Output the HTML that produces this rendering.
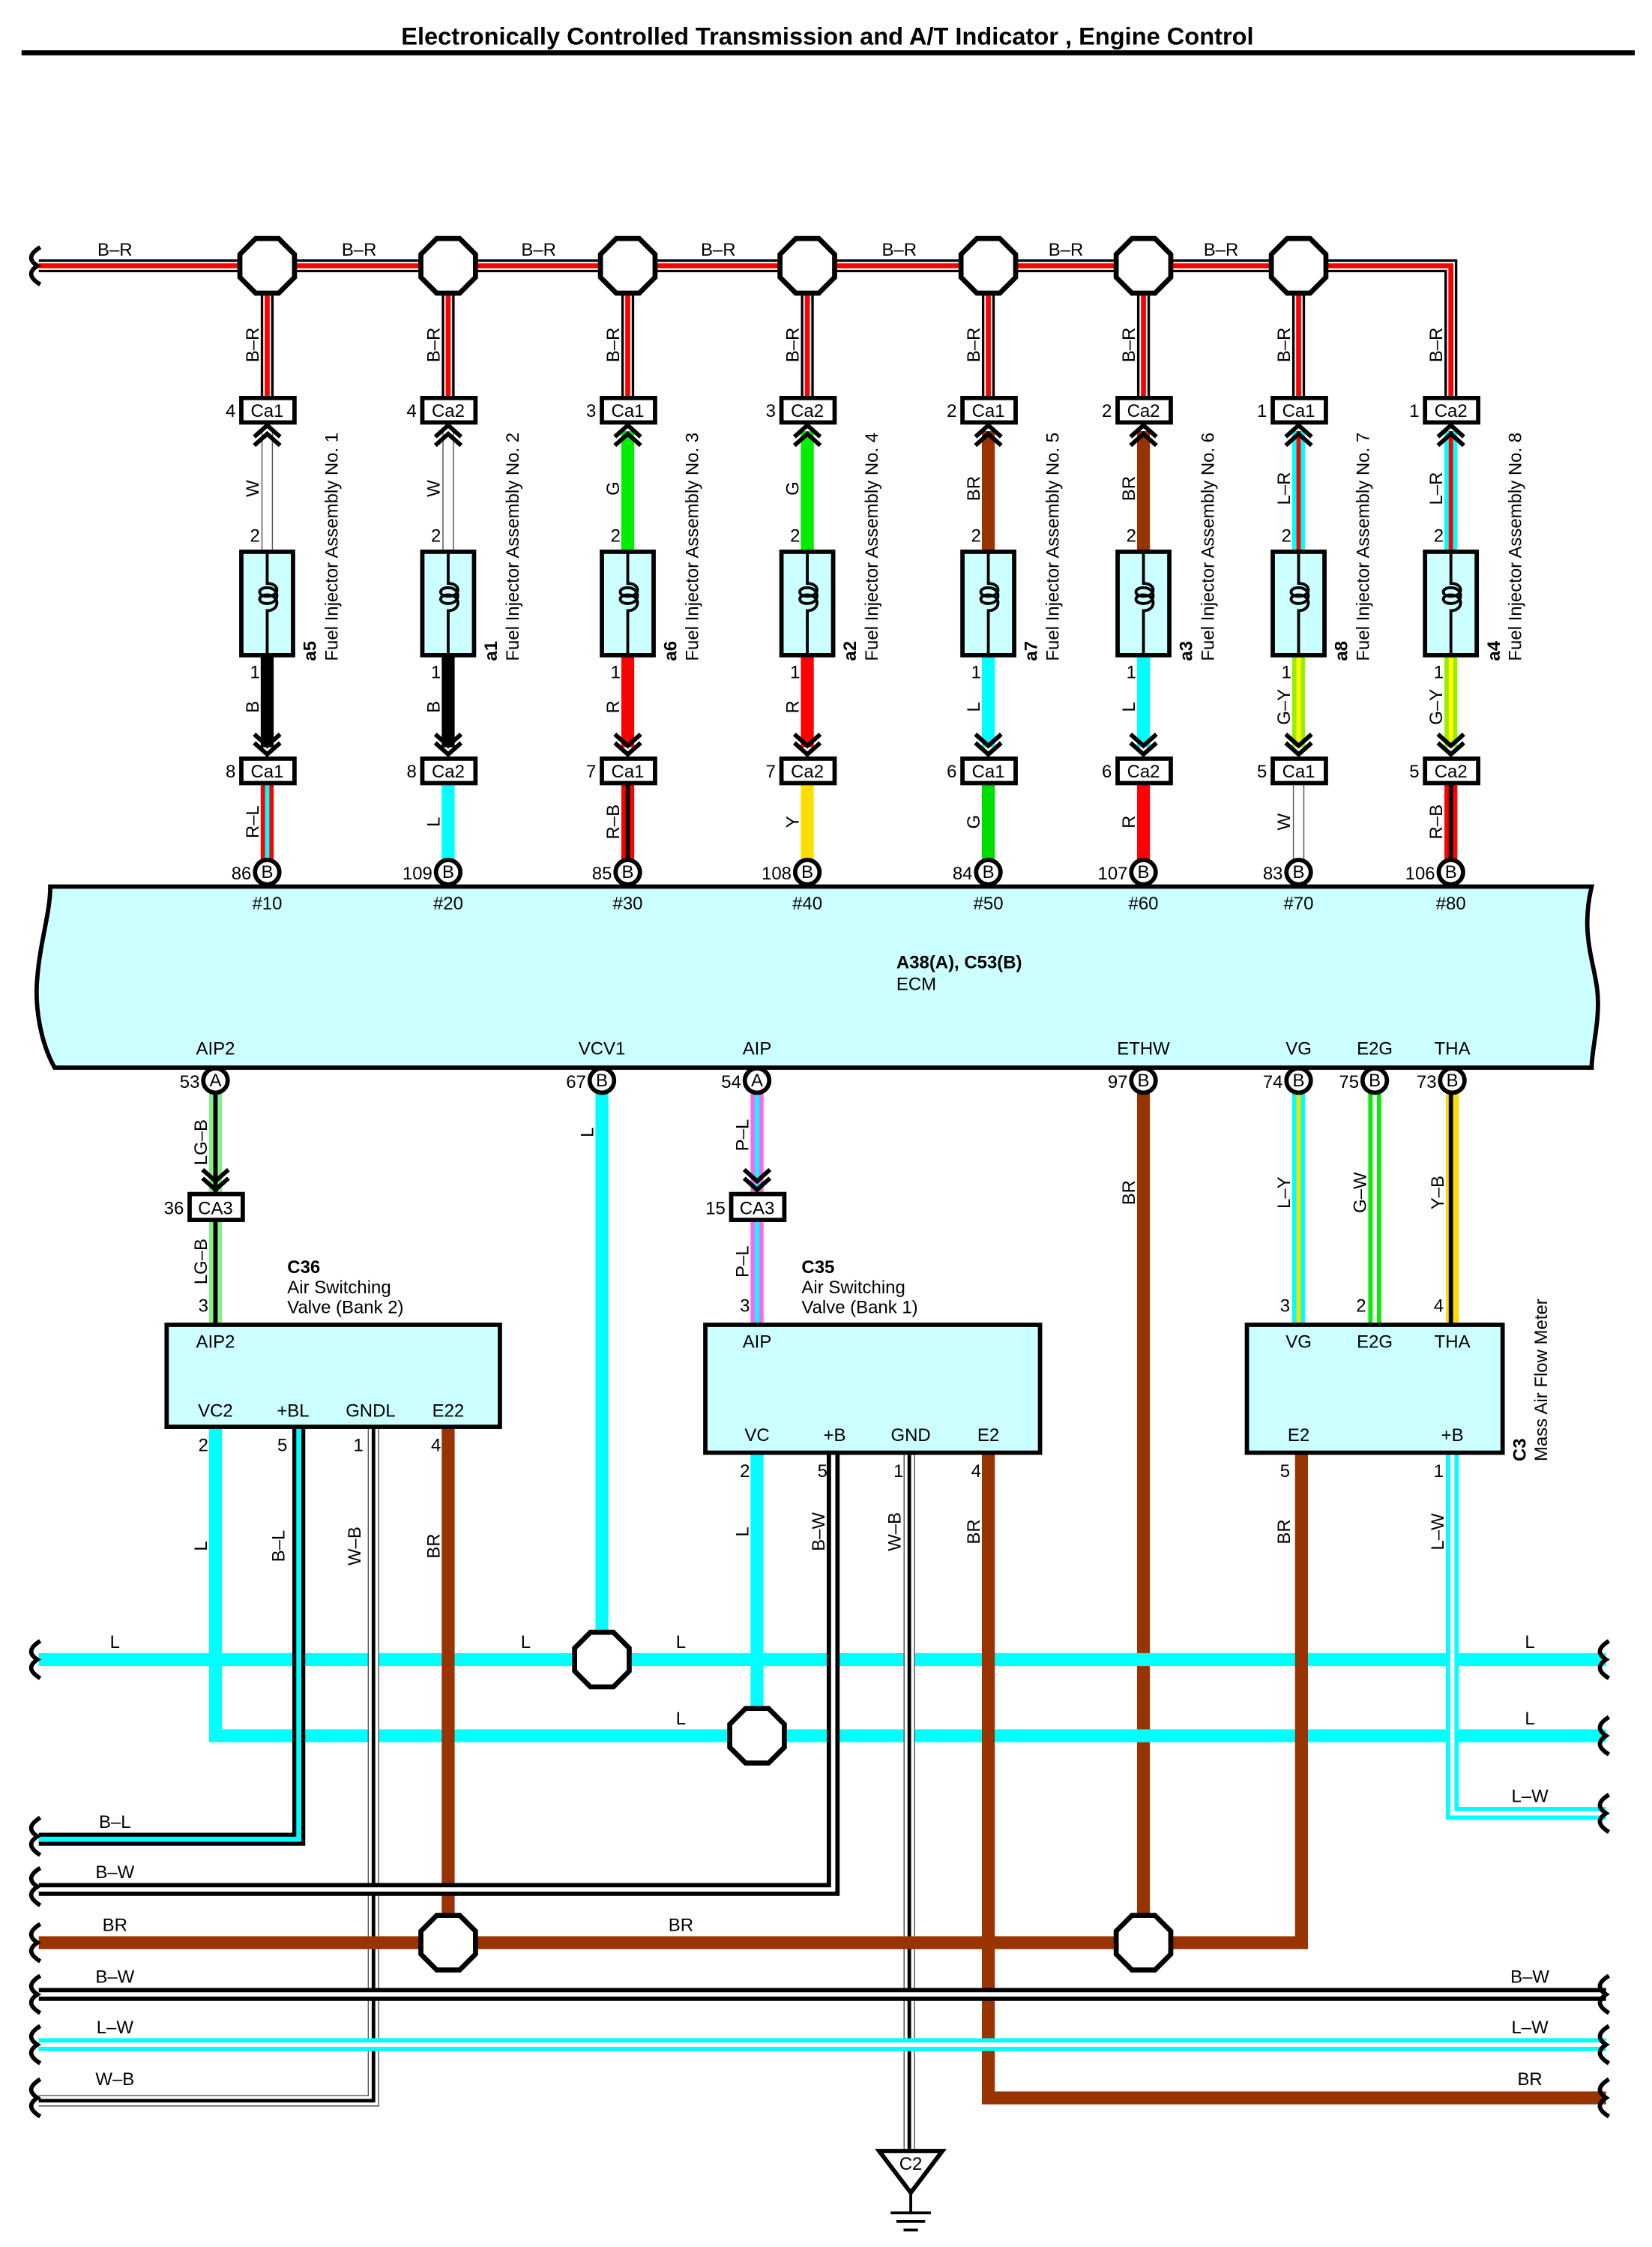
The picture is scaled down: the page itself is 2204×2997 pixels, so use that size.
<!DOCTYPE html>
<html><head><meta charset="utf-8"><style>
html,body{margin:0;padding:0;background:#fff}
svg{display:block}
text{font-family:"Liberation Sans",sans-serif;font-size:12.5px;fill:#000}
.b{font-weight:bold}
.f{fill:none}
</style></head><body>
<svg width="2204" height="2997" viewBox="0 0 1150 1563.8" preserveAspectRatio="none" xmlns="http://www.w3.org/2000/svg">
<defs>
<g id="oct"><polygon points="-8,-19 8,-19 19,-8 19,8 8,19 -8,19 -19,8 -19,-8" fill="#fff" stroke="#000" stroke-width="3.5"/></g>
<g id="chu" fill="none" stroke="#000" stroke-width="3"><path d="M-9,10 L0,2 L9,10 M-9,16 L0,8 L9,16"/></g>
<g id="chd" fill="none" stroke="#000" stroke-width="3"><path d="M-9,-16 L0,-8 L9,-16 M-9,-10 L0,-2 L9,-10"/></g>
<g id="pin"><circle r="8.5" fill="#fff" stroke="#000" stroke-width="3"/></g>
<g id="inj"><rect x="-18" y="0" width="36" height="72" fill="#ccffff" stroke="#000" stroke-width="3"/><path d="M0,0 V22 c9,0 9,9 0,9 c-7,0 -7,-6 0,-6 c9,0 9,11 0,11 c-7,0 -7,-6 0,-6 c9,0 9,11 0,11 V72" fill="none" stroke="#000" stroke-width="2"/></g>
<g id="cap"><path d="M0,-13 C-8,-8 -8,-4 -2,0 C-8,4 -8,8 0,13" fill="none" stroke="#000" stroke-width="3"/></g>
</defs>

<text x="576" y="31" text-anchor="middle" class="b" style="font-size:17px">Electronically Controlled Transmission and A/T Indicator , Engine Control</text>
<rect x="15" y="35" width="1123" height="3.5" fill="#000"/>

<!-- top bus B-R -->
<g class="f" stroke-linejoin="miter">
<path d="M27,185 H1010 V285" stroke="#000" stroke-width="9"/>
<path d="M27,185 H1010 V285" stroke="#fff" stroke-width="5.5"/>
<path d="M27,185 H1010 V285" stroke="#f00" stroke-width="3.5"/>
</g>
<use href="#cap" x="28" y="185"/>

<g class="f">
<path d="M186,185V277 M312,185V277 M437,185V277 M562,185V277 M688,185V277 M796,185V277 M904,185V277" stroke="#000" stroke-width="9"/>
<path d="M186,185V277 M312,185V277 M437,185V277 M562,185V277 M688,185V277 M796,185V277 M904,185V277" stroke="#fff" stroke-width="5.5"/>
<path d="M186,185V277 M312,185V277 M437,185V277 M562,185V277 M688,185V277 M796,185V277 M904,185V277" stroke="#f00" stroke-width="3.5"/>
</g>
<use href="#oct" x="186" y="185"/><use href="#oct" x="312" y="185"/><use href="#oct" x="437" y="185"/><use href="#oct" x="562" y="185"/><use href="#oct" x="688" y="185"/><use href="#oct" x="796" y="185"/><use href="#oct" x="904" y="185"/>
<text x="80" y="178" text-anchor="middle">B–R</text><text x="250" y="178" text-anchor="middle">B–R</text><text x="375" y="178" text-anchor="middle">B–R</text><text x="500" y="178" text-anchor="middle">B–R</text><text x="626" y="178" text-anchor="middle">B–R</text><text x="742" y="178" text-anchor="middle">B–R</text><text x="850" y="178" text-anchor="middle">B–R</text>
<g text-anchor="middle">
<text transform="translate(180,240) rotate(-90)">B–R</text><text transform="translate(306,240) rotate(-90)">B–R</text><text transform="translate(431,240) rotate(-90)">B–R</text><text transform="translate(556,240) rotate(-90)">B–R</text><text transform="translate(682,240) rotate(-90)">B–R</text><text transform="translate(790,240) rotate(-90)">B–R</text><text transform="translate(898,240) rotate(-90)">B–R</text><text transform="translate(1004,240) rotate(-90)">B–R</text>
</g>

<g class="f">
<path d="M186,300V384 M312,300V384" stroke="#555" stroke-width="8"/>
<path d="M186,300V384 M312,300V384" stroke="#fff" stroke-width="6.5"/>
<path d="M437,300V384 M562,300V384" stroke="#0e0" stroke-width="9"/>
<path d="M688,300V384 M796,300V384" stroke="#930" stroke-width="9"/>
<path d="M904,300V384 M1010,300V384" stroke="#0ff" stroke-width="9"/>
<path d="M904,300V384 M1010,300V384" stroke="#f00" stroke-width="3"/>
<path d="M186,456V520 M312,456V520" stroke="#000" stroke-width="9"/>
<path d="M437,456V520 M562,456V520" stroke="#f00" stroke-width="9"/>
<path d="M688,456V520 M796,456V520" stroke="#0ff" stroke-width="9"/>
<path d="M904,456V520 M1010,456V520" stroke="#9e0" stroke-width="9"/>
<path d="M904,456V520 M1010,456V520" stroke="#ff0" stroke-width="3"/>
<path d="M186,545V600" stroke="#f00" stroke-width="9"/><path d="M186,545V600" stroke="#0ff" stroke-width="3"/>
<path d="M312,545V600" stroke="#0ff" stroke-width="9"/>
<path d="M437,545V600" stroke="#f00" stroke-width="9"/><path d="M437,545V600" stroke="#000" stroke-width="3"/>
<path d="M562,545V600" stroke="#fd0" stroke-width="9"/>
<path d="M688,545V600" stroke="#0d0" stroke-width="9"/>
<path d="M796,545V600" stroke="#f00" stroke-width="9"/>
<path d="M904,545V600" stroke="#555" stroke-width="8"/><path d="M904,545V600" stroke="#fff" stroke-width="6.5"/>
<path d="M1010,545V600" stroke="#f00" stroke-width="9"/><path d="M1010,545V600" stroke="#000" stroke-width="3"/>
</g>

<g fill="#fff" stroke="#000" stroke-width="3">
<rect x="168" y="277" width="37" height="17"/><rect x="294" y="277" width="37" height="17"/><rect x="419" y="277" width="37" height="17"/><rect x="544" y="277" width="37" height="17"/><rect x="670" y="277" width="37" height="17"/><rect x="778" y="277" width="37" height="17"/><rect x="886" y="277" width="37" height="17"/><rect x="992" y="277" width="37" height="17"/>
<rect x="168" y="528" width="37" height="17"/><rect x="294" y="528" width="37" height="17"/><rect x="419" y="528" width="37" height="17"/><rect x="544" y="528" width="37" height="17"/><rect x="670" y="528" width="37" height="17"/><rect x="778" y="528" width="37" height="17"/><rect x="886" y="528" width="37" height="17"/><rect x="992" y="528" width="37" height="17"/>
</g>
<g text-anchor="middle">
<text x="186" y="290">Ca1</text><text x="312" y="290">Ca2</text><text x="437" y="290">Ca1</text><text x="562" y="290">Ca2</text><text x="688" y="290">Ca1</text><text x="796" y="290">Ca2</text><text x="904" y="290">Ca1</text><text x="1010" y="290">Ca2</text>
<text x="186" y="541">Ca1</text><text x="312" y="541">Ca2</text><text x="437" y="541">Ca1</text><text x="562" y="541">Ca2</text><text x="688" y="541">Ca1</text><text x="796" y="541">Ca2</text><text x="904" y="541">Ca1</text><text x="1010" y="541">Ca2</text>
</g>
<g text-anchor="end">
<text x="164" y="290">4</text><text x="290" y="290">4</text><text x="415" y="290">3</text><text x="540" y="290">3</text><text x="666" y="290">2</text><text x="774" y="290">2</text><text x="882" y="290">1</text><text x="988" y="290">1</text>
<text x="164" y="541">8</text><text x="290" y="541">8</text><text x="415" y="541">7</text><text x="540" y="541">7</text><text x="666" y="541">6</text><text x="774" y="541">6</text><text x="882" y="541">5</text><text x="988" y="541">5</text>
<text x="181" y="377">2</text><text x="307" y="377">2</text><text x="432" y="377">2</text><text x="557" y="377">2</text><text x="683" y="377">2</text><text x="791" y="377">2</text><text x="899" y="377">2</text><text x="1005" y="377">2</text>
<text x="181" y="472">1</text><text x="307" y="472">1</text><text x="432" y="472">1</text><text x="557" y="472">1</text><text x="683" y="472">1</text><text x="791" y="472">1</text><text x="899" y="472">1</text><text x="1005" y="472">1</text>
</g>
<use href="#chu" x="186" y="294"/><use href="#chu" x="312" y="294"/><use href="#chu" x="437" y="294"/><use href="#chu" x="562" y="294"/><use href="#chu" x="688" y="294"/><use href="#chu" x="796" y="294"/><use href="#chu" x="904" y="294"/><use href="#chu" x="1010" y="294"/>
<use href="#chd" x="186" y="527"/><use href="#chd" x="312" y="527"/><use href="#chd" x="437" y="527"/><use href="#chd" x="562" y="527"/><use href="#chd" x="688" y="527"/><use href="#chd" x="796" y="527"/><use href="#chd" x="904" y="527"/><use href="#chd" x="1010" y="527"/>
<use href="#inj" x="186" y="384"/><use href="#inj" x="312" y="384"/><use href="#inj" x="437" y="384"/><use href="#inj" x="562" y="384"/><use href="#inj" x="688" y="384"/><use href="#inj" x="796" y="384"/><use href="#inj" x="904" y="384"/><use href="#inj" x="1010" y="384"/>

<g text-anchor="middle">
<text transform="translate(180,340) rotate(-90)">W</text><text transform="translate(306,340) rotate(-90)">W</text><text transform="translate(431,340) rotate(-90)">G</text><text transform="translate(556,340) rotate(-90)">G</text><text transform="translate(682,340) rotate(-90)">BR</text><text transform="translate(790,340) rotate(-90)">BR</text><text transform="translate(898,340) rotate(-90)">L–R</text><text transform="translate(1004,340) rotate(-90)">L–R</text>
<text transform="translate(180,492) rotate(-90)">B</text><text transform="translate(306,492) rotate(-90)">B</text><text transform="translate(431,492) rotate(-90)">R</text><text transform="translate(556,492) rotate(-90)">R</text><text transform="translate(682,492) rotate(-90)">L</text><text transform="translate(790,492) rotate(-90)">L</text><text transform="translate(898,492) rotate(-90)">G–Y</text><text transform="translate(1004,492) rotate(-90)">G–Y</text>
<text transform="translate(180,572) rotate(-90)">R–L</text><text transform="translate(306,572) rotate(-90)">L</text><text transform="translate(431,572) rotate(-90)">R–B</text><text transform="translate(556,572) rotate(-90)">Y</text><text transform="translate(682,572) rotate(-90)">G</text><text transform="translate(790,572) rotate(-90)">R</text><text transform="translate(898,572) rotate(-90)">W</text><text transform="translate(1004,572) rotate(-90)">R–B</text>
</g>
<g>
<text class="b" transform="translate(220,460) rotate(-90)">a5</text><text transform="translate(235,460) rotate(-90)">Fuel Injector Assembly No. 1</text>
<text class="b" transform="translate(346,460) rotate(-90)">a1</text><text transform="translate(361,460) rotate(-90)">Fuel Injector Assembly No. 2</text>
<text class="b" transform="translate(471,460) rotate(-90)">a6</text><text transform="translate(486,460) rotate(-90)">Fuel Injector Assembly No. 3</text>
<text class="b" transform="translate(596,460) rotate(-90)">a2</text><text transform="translate(611,460) rotate(-90)">Fuel Injector Assembly No. 4</text>
<text class="b" transform="translate(722,460) rotate(-90)">a7</text><text transform="translate(737,460) rotate(-90)">Fuel Injector Assembly No. 5</text>
<text class="b" transform="translate(830,460) rotate(-90)">a3</text><text transform="translate(845,460) rotate(-90)">Fuel Injector Assembly No. 6</text>
<text class="b" transform="translate(938,460) rotate(-90)">a8</text><text transform="translate(953,460) rotate(-90)">Fuel Injector Assembly No. 7</text>
<text class="b" transform="translate(1044,460) rotate(-90)">a4</text><text transform="translate(1059,460) rotate(-90)">Fuel Injector Assembly No. 8</text>
</g>

<path d="M35,617 H1108 C1100,650 1110,670 1112,690 C1114,710 1108,730 1108,743 H38 C28,725 24,700 26,680 C28,655 35,635 35,617 Z" fill="#ccffff" stroke="#000" stroke-width="3"/>
<text x="624" y="674" class="b">A38(A), C53(B)</text>
<text x="624" y="689">ECM</text>
<g text-anchor="middle">
<text x="186" y="633">#10</text><text x="312" y="633">#20</text><text x="437" y="633">#30</text><text x="562" y="633">#40</text><text x="688" y="633">#50</text><text x="796" y="633">#60</text><text x="904" y="633">#70</text><text x="1010" y="633">#80</text>
<text x="150" y="734">AIP2</text><text x="419" y="734">VCV1</text><text x="527" y="734">AIP</text><text x="796" y="734">ETHW</text><text x="904" y="734">VG</text><text x="957" y="734">E2G</text><text x="1011" y="734">THA</text>
</g>

<g class="f">
<path d="M150,760V922" stroke="#8e8" stroke-width="9"/><path d="M150,760V922" stroke="#000" stroke-width="3"/>
<path d="M419,760V1155" stroke="#0ff" stroke-width="9"/>
<path d="M527,760V922" stroke="#f6e" stroke-width="9"/><path d="M527,760V922" stroke="#0ff" stroke-width="3"/>
<path d="M796,760V1352" stroke="#930" stroke-width="9"/>
<path d="M904,760V922" stroke="#0ff" stroke-width="9"/><path d="M904,760V922" stroke="#fd0" stroke-width="3"/>
<path d="M957,760V922" stroke="#0e0" stroke-width="9"/><path d="M957,760V922" stroke="#fff" stroke-width="3"/>
<path d="M1011,760V922" stroke="#fd0" stroke-width="9"/><path d="M1010,760V922" stroke="#000" stroke-width="3"/>
<path d="M27,1155H1118" stroke="#0ff" stroke-width="9"/>
<path d="M150,993V1208H1118" stroke="#0ff" stroke-width="9"/>
<path d="M527,1011V1208" stroke="#0ff" stroke-width="9"/>
<path d="M208,993V1280H27" stroke="#000" stroke-width="9"/><path d="M208,993V1280H27" stroke="#0ff" stroke-width="3.5"/>
<path d="M260,993V1462H27" stroke="#555" stroke-width="8"/><path d="M260,993V1462H27" stroke="#fff" stroke-width="6.5"/><path d="M260,993V1462H27" stroke="#000" stroke-width="2.5"/>
<path d="M312,993V1352" stroke="#930" stroke-width="9"/>
<path d="M580,1011V1315H27" stroke="#000" stroke-width="9"/><path d="M580,1011V1315H27" stroke="#fff" stroke-width="3"/>
<path d="M633,1011V1497" stroke="#555" stroke-width="8"/><path d="M633,1011V1497" stroke="#fff" stroke-width="6.5"/><path d="M633,1011V1497" stroke="#000" stroke-width="2.5"/>
<path d="M688,1011V1460H1118" stroke="#930" stroke-width="9"/>
<path d="M27,1352H906V1011" stroke="#930" stroke-width="9"/>
<path d="M1011,1011V1262H1118" stroke="#0ff" stroke-width="9"/><path d="M1011,1011V1262H1118" stroke="#fff" stroke-width="3"/>
<path d="M27,1388H1118" stroke="#000" stroke-width="9"/><path d="M27,1388H1118" stroke="#fff" stroke-width="3"/>
<path d="M27,1423H1118" stroke="#0ff" stroke-width="9"/><path d="M27,1423H1118" stroke="#fff" stroke-width="3"/>
</g>

<use href="#pin" x="186" y="607"/><use href="#pin" x="312" y="607"/><use href="#pin" x="437" y="607"/><use href="#pin" x="562" y="607"/><use href="#pin" x="688" y="607"/><use href="#pin" x="796" y="607"/><use href="#pin" x="904" y="607"/><use href="#pin" x="1010" y="607"/>
<use href="#pin" x="150" y="752"/><use href="#pin" x="419" y="752"/><use href="#pin" x="527" y="752"/><use href="#pin" x="796" y="752"/><use href="#pin" x="904" y="752"/><use href="#pin" x="957" y="752"/><use href="#pin" x="1011" y="752"/>
<g text-anchor="middle" style="font-size:11.5px">
<text x="186" y="611">B</text><text x="312" y="611">B</text><text x="437" y="611">B</text><text x="562" y="611">B</text><text x="688" y="611">B</text><text x="796" y="611">B</text><text x="904" y="611">B</text><text x="1010" y="611">B</text>
<text x="150" y="756">A</text><text x="419" y="756">B</text><text x="527" y="756">A</text><text x="796" y="756">B</text><text x="904" y="756">B</text><text x="957" y="756">B</text><text x="1011" y="756">B</text>
</g>
<g text-anchor="end">
<text x="175" y="612">86</text><text x="301" y="612">109</text><text x="426" y="612">85</text><text x="551" y="612">108</text><text x="677" y="612">84</text><text x="785" y="612">107</text><text x="893" y="612">83</text><text x="999" y="612">106</text>
<text x="139" y="757">53</text><text x="408" y="757">67</text><text x="516" y="757">54</text><text x="785" y="757">97</text><text x="893" y="757">74</text><text x="946" y="757">75</text><text x="1000" y="757">73</text>
</g>

<use href="#chd" x="150" y="830"/><use href="#chd" x="527" y="830"/>
<rect x="132" y="831" width="37" height="18" fill="#fff" stroke="#000" stroke-width="3"/>
<rect x="509" y="831" width="37" height="18" fill="#fff" stroke="#000" stroke-width="3"/>
<text x="150" y="845" text-anchor="middle">CA3</text><text x="527" y="845" text-anchor="middle">CA3</text>
<text x="128" y="845" text-anchor="end">36</text><text x="505" y="845" text-anchor="end">15</text>

<rect x="116" y="922" width="232" height="71" fill="#ccffff" stroke="#000" stroke-width="3"/>
<rect x="491" y="922" width="233" height="89" fill="#ccffff" stroke="#000" stroke-width="3"/>
<rect x="868" y="922" width="178" height="89" fill="#ccffff" stroke="#000" stroke-width="3"/>
<g text-anchor="middle">
<text x="150" y="938">AIP2</text><text x="150" y="986">VC2</text><text x="204" y="986">+BL</text><text x="258" y="986">GNDL</text><text x="312" y="986">E22</text>
<text x="527" y="938">AIP</text><text x="527" y="1003">VC</text><text x="581" y="1003">+B</text><text x="634" y="1003">GND</text><text x="688" y="1003">E2</text>
<text x="904" y="938">VG</text><text x="957" y="938">E2G</text><text x="1011" y="938">THA</text><text x="904" y="1003">E2</text><text x="1011" y="1003">+B</text>
</g>
<text x="200" y="886" class="b">C36</text><text x="200" y="900">Air Switching</text><text x="200" y="914">Valve (Bank 2)</text>
<text x="558" y="886" class="b">C35</text><text x="558" y="900">Air Switching</text><text x="558" y="914">Valve (Bank 1)</text>
<text class="b" transform="translate(1062,1017) rotate(-90)">C3</text><text transform="translate(1077,1017) rotate(-90)">Mass Air Flow Meter</text>
<g text-anchor="end">
<text x="145" y="913">3</text><text x="522" y="913">3</text><text x="898" y="913">3</text><text x="951" y="913">2</text><text x="1005" y="913">4</text>
<text x="145" y="1010">2</text><text x="200" y="1010">5</text><text x="253" y="1010">1</text><text x="307" y="1010">4</text>
<text x="522" y="1028">2</text><text x="576" y="1028">5</text><text x="629" y="1028">1</text><text x="683" y="1028">4</text>
<text x="898" y="1028">5</text><text x="1005" y="1028">1</text>
</g>
<g text-anchor="middle">
<text transform="translate(144,795) rotate(-90)">LG–B</text><text transform="translate(144,878) rotate(-90)">LG–B</text>
<text transform="translate(413,788) rotate(-90)">L</text>
<text transform="translate(521,790) rotate(-90)">P–L</text><text transform="translate(521,878) rotate(-90)">P–L</text>
<text transform="translate(790,830) rotate(-90)">BR</text>
<text transform="translate(898,830) rotate(-90)">L–Y</text><text transform="translate(951,830) rotate(-90)">G–W</text><text transform="translate(1005,830) rotate(-90)">Y–B</text>
<text transform="translate(144,1076) rotate(-90)">L</text><text transform="translate(198,1076) rotate(-90)">B–L</text><text transform="translate(251,1076) rotate(-90)">W–B</text><text transform="translate(306,1076) rotate(-90)">BR</text>
<text transform="translate(521,1066) rotate(-90)">L</text><text transform="translate(574,1066) rotate(-90)">B–W</text><text transform="translate(627,1066) rotate(-90)">W–B</text><text transform="translate(682,1066) rotate(-90)">BR</text>
<text transform="translate(898,1066) rotate(-90)">BR</text><text transform="translate(1005,1066) rotate(-90)">L–W</text>
</g>

<use href="#oct" x="419" y="1155"/><use href="#oct" x="527" y="1208"/><use href="#oct" x="312" y="1352"/><use href="#oct" x="796" y="1352"/>

<g text-anchor="middle">
<text x="80" y="1147">L</text><text x="366" y="1147">L</text><text x="474" y="1147">L</text><text x="1065" y="1147">L</text>
<text x="474" y="1200">L</text><text x="1065" y="1200">L</text>
<text x="1065" y="1254">L–W</text>
<text x="80" y="1272">B–L</text>
<text x="80" y="1307">B–W</text>
<text x="80" y="1344">BR</text><text x="474" y="1344">BR</text>
<text x="80" y="1380">B–W</text><text x="1065" y="1380">B–W</text>
<text x="80" y="1415">L–W</text><text x="1065" y="1415">L–W</text>
<text x="80" y="1451">W–B</text><text x="1065" y="1451">BR</text>
</g>

<use href="#cap" x="28" y="1155"/>
<use href="#cap" x="28" y="1278"/><use href="#cap" x="28" y="1313"/><use href="#cap" x="28" y="1352"/><use href="#cap" x="28" y="1388"/><use href="#cap" x="28" y="1423"/><use href="#cap" x="28" y="1460"/>
<use href="#cap" x="1120" y="1155"/><use href="#cap" x="1120" y="1208"/><use href="#cap" x="1120" y="1262"/><use href="#cap" x="1120" y="1388"/><use href="#cap" x="1120" y="1423"/><use href="#cap" x="1120" y="1460"/>

<polygon points="612,1497 656,1497 634,1526" fill="#fff" stroke="#000" stroke-width="3"/>
<text x="634" y="1510" text-anchor="middle">C2</text>
<path d="M634,1526V1540 M620,1540H648 M624,1546H644 M629,1552H639" stroke="#000" stroke-width="2" fill="none"/>
</svg>
</body></html>
